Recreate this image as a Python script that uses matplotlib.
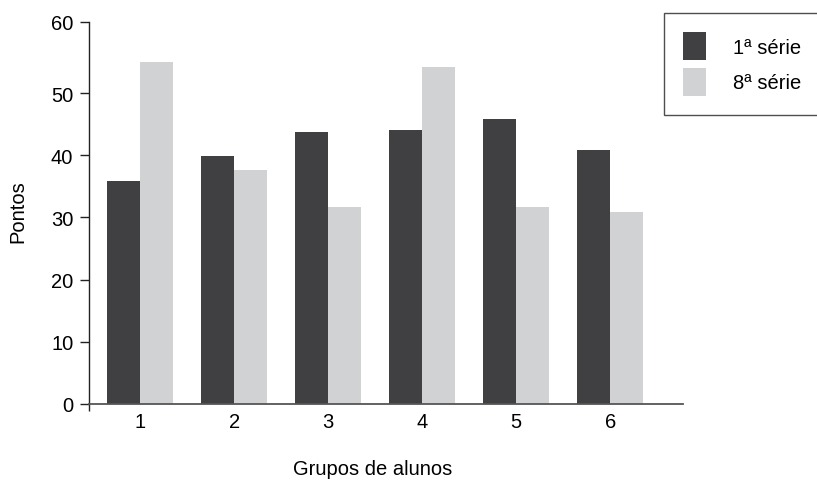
import numpy as np
import matplotlib.pyplot as plt

plt.rcParams['font.family'] = ['Liberation Sans', 'DejaVu Sans']
plt.rcParams['font.size'] = 14.5

# dados do gráfico
grupos = ['1', '2', '3', '4', '5', '6']
serie_1 = [35.8, 39.8, 43.8, 44.0, 45.9, 40.9]   # 1ª série
serie_8 = [55.0, 37.7, 31.7, 54.2, 31.7, 30.8]   # 8ª série
y_ticks = [0, 10, 20, 30, 40, 50, 60]

cor_escura = '#404042'
cor_clara = '#d1d2d4'

fig = plt.figure(figsize=(8.17, 4.85), dpi=100)
ax = fig.add_axes([0.1093, 0.165, 0.7263, 0.788])

x = np.arange(1, len(grupos) + 1)
w = 0.35
ax.bar(x - w / 2, serie_1, width=w, color=cor_escura, label='1ª série')
ax.bar(x + w / 2, serie_8, width=w, color=cor_clara, label='8ª série')

# o topo do eixo original fica um pouco acima do 60 "real"
topo = 61.46
ax.set_ylim(0, topo)
ax.set_xlim(0.46, 6.77)
ax.set_yticks(y_ticks[:-1] + [topo])
ax.set_yticklabels([str(v) for v in y_ticks])
ax.set_xticks(x)
ax.set_xticklabels(grupos)
ax.set_xticks([0.46], minor=True)

ax.spines['top'].set_visible(False)
ax.spines['right'].set_visible(False)
ax.spines['left'].set_linewidth(1.0)
ax.spines['left'].set_color('#222222')
ax.spines['bottom'].set_linewidth(1.3)
ax.spines['bottom'].set_color('#555555')

ax.tick_params(axis='y', direction='out', length=6.5, width=1.0, pad=5, color='#222222')
ax.tick_params(axis='x', which='major', length=0, pad=6)
ax.tick_params(axis='x', which='minor', direction='out', length=5, width=1.0, color='#222222')

ax.set_ylabel('Pontos', va='center', ha='center')
ax.yaxis.set_label_coords(-0.120, 0.505)
ax.set_xlabel('Grupos de alunos', va='center', ha='center')
ax.xaxis.set_label_coords(0.478, -0.170)

leg = fig.legend(loc='upper left', bbox_to_anchor=(664 / 817, 1 - 14 / 485),
                 frameon=True, fancybox=False, borderpad=0.95,
                 handlelength=1.15, handleheight=1.78, labelspacing=0.37,
                 handletextpad=1.33, borderaxespad=0)
leg.get_frame().set_edgecolor('#222222')
leg.get_frame().set_linewidth(1.0)

fig.savefig('out.png', dpi=100)
